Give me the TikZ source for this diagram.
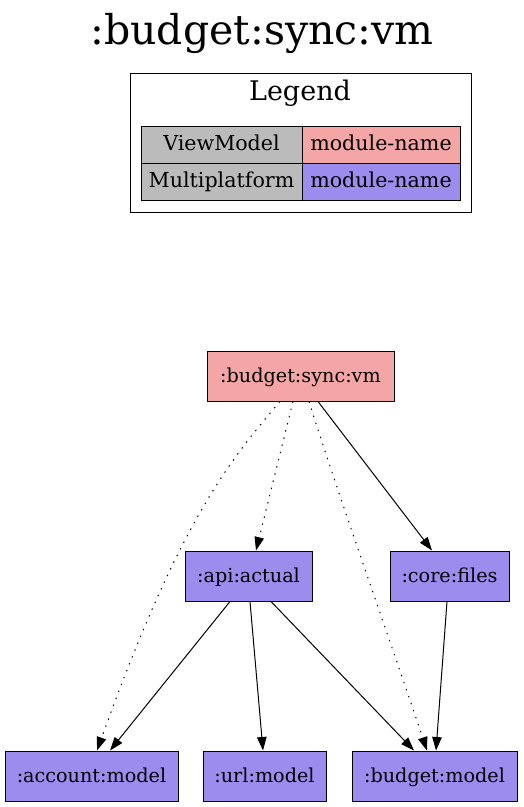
\documentclass[tikz,border=0pt]{standalone}
\usepackage{fontspec}
\setmainfont{DejaVu Serif}
\usetikzlibrary{arrows.meta}
\definecolor{vmpink}{HTML}{F4A6A6}
\definecolor{mppurple}{HTML}{9C8CEE}
\definecolor{cellgray}{HTML}{BBBBBB}
\begin{document}
\begin{tikzpicture}[x=1pt,y=-1pt,
        module/.style={draw,line width=1pt,minimum height=50pt,inner sep=0pt,text height=15pt,text depth=3pt,font=\fontsize{19.2}{22}\selectfont},
        cell/.style={draw,line width=1pt,minimum height=37pt,inner sep=0pt,text height=15pt,text depth=4pt,font=\fontsize{20.6}{24}\selectfont},
        dep/.style={line width=1pt,-{Triangle[length=13.5pt,width=9.5pt]}},
        weak/.style={dep,dash pattern=on 1.4pt off 6pt}]
        \useasboundingbox (0,0) rectangle (524,807);
        %% Title
        \node (title) at (262,33) {\fontsize{41}{46}\selectfont :budget:sync:vm};
        %% Legend
        \begin{scope}
            \draw[line width=1pt] (130,73) rectangle (471,212);
            \node (legend) at (300,93) {\fontsize{27}{32}\selectfont Legend};
            \node[cell,fill=cellgray,minimum width=161pt] (vmkey) at (221.5,144.5) {ViewModel};
            \node[cell,fill=vmpink,minimum width=158pt] (vmval) at (381,144.5) {module-name};
            \node[cell,fill=cellgray,minimum width=161pt] (mpkey) at (221.5,182) {Multiplatform};
            \node[cell,fill=mppurple,minimum width=158pt] (mpval) at (381,182) {module-name};
        \end{scope}
        %% Modules
        \node[module,fill=vmpink,minimum width=187pt] (syncvm) at (300.5,376) {:budget:sync:vm};
        \node[module,fill=mppurple,minimum width=127pt] (apiactual) at (248.5,576) {:api:actual};
        \node[module,fill=mppurple,minimum width=119pt] (corefiles) at (449.5,576) {:core:files};
        \node[module,fill=mppurple,minimum width=173pt] (accountmodel) at (91.5,776) {:account:model};
        \node[module,fill=mppurple,minimum width=123pt] (urlmodel) at (264.5,776) {:url:model};
        \node[module,fill=mppurple,minimum width=165pt] (budgetmodel) at (434.5,776) {:budget:model};
        %% Dependencies
        \draw[weak] (syncvm.south -| 280,0) .. controls (230,460) and (180,520) .. (accountmodel.north -| 97,0);
        \draw[weak] (syncvm.south -| 293,0) -- (apiactual.north -| 256,0);
        \draw[weak] (syncvm.south -| 309,0) .. controls (340,500) and (390,640) .. (budgetmodel.north -| 427,0);
        \draw[dep] (syncvm.south -| 318,0) -- (corefiles.north -| 432,0);
        \draw[dep] (apiactual.south -| 230,0) -- (accountmodel.north -| 110,0);
        \draw[dep] (apiactual.south -| 250,0) -- (urlmodel.north -| 263,0);
        \draw[dep] (apiactual.south -| 271,0) -- (budgetmodel.north -| 414,0);
        \draw[dep] (corefiles.south -| 447,0) -- (budgetmodel.north -| 436,0);
    \end{tikzpicture}
\end{document}
